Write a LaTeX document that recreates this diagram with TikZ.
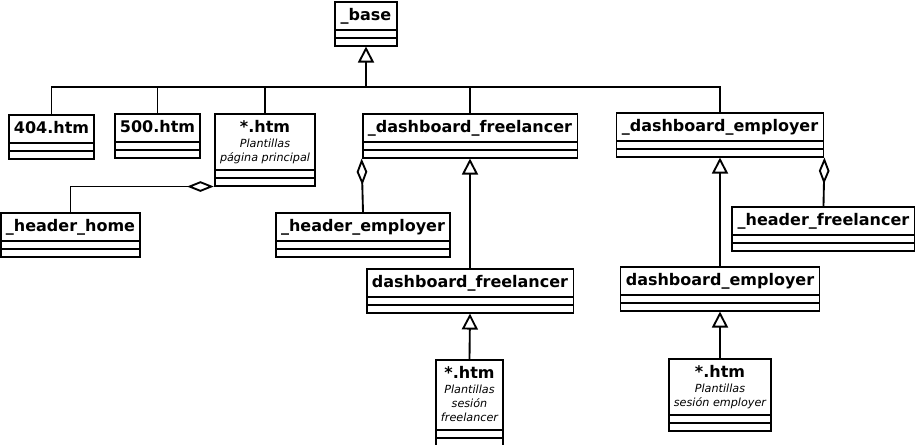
\documentclass[tikz,border=0pt]{standalone}
\usepackage{fontspec}
\setmainfont{DejaVu Sans}
\usetikzlibrary{shapes.multipart,arrows.meta}

\newcommand{\clsname}[1]{{\fontsize{12}{14}\selectfont\bfseries\upshape\rule[-3.5pt]{0pt}{14.75pt}#1}}
\newcommand{\clsnote}[2]{\begin{tabular}[t]{@{}c@{}}\clsname{#1}\\#2\end{tabular}}
\newcommand{\emptyrow}{\rule{0.5pt}{0pt}}

\tikzset{
  umlclass/.style={draw, line width=1.4pt, fill=white, anchor=north,
    rectangle split, rectangle split parts=3,
    inner xsep=4pt, inner ysep=2.3pt,
    font=\fontsize{8.4}{10.5}\selectfont\itshape},
  link/.style={line width=1.4pt},
  inherit/.style={link, -{Triangle[open,length=12pt,width=12pt]}},
  aggr/.style={link, -{Diamond[open,length=20pt,width=8pt]}},
}

\begin{document}
\begin{tikzpicture}[x=0.75pt,y=-0.75pt]
      \useasboundingbox (0,0) rectangle (915,445);
      % classes
      \node[umlclass] (base) at (366,1) {\clsname{\_base}\nodepart{two}\emptyrow\nodepart{three}\emptyrow};
      \node[umlclass] (p404) at (51.5,114) {\clsname{404.htm}\nodepart{two}\emptyrow\nodepart{three}\emptyrow};
      \node[umlclass] (p500) at (157.5,113) {\clsname{500.htm}\nodepart{two}\emptyrow\nodepart{three}\emptyrow};
      \node[umlclass] (pmain) at (265,113) {\clsnote{*.htm}{Plantillas\\página principal}\nodepart{two}\emptyrow\nodepart{three}\emptyrow};
      \node[umlclass] (dfree) at (470,113) {\clsname{\_dashboard\_freelancer}\nodepart{two}\emptyrow\nodepart{three}\emptyrow};
      \node[umlclass] (demp) at (720,112) {\clsname{\_dashboard\_employer}\nodepart{two}\emptyrow\nodepart{three}\emptyrow};
      \node[umlclass] (hhome) at (70.5,212) {\clsname{\_header\_home}\nodepart{two}\emptyrow\nodepart{three}\emptyrow};
      \node[umlclass] (hemp) at (363,212) {\clsname{\_header\_employer}\nodepart{two}\emptyrow\nodepart{three}\emptyrow};
      \node[umlclass] (hfree) at (823.5,206) {\clsname{\_header\_freelancer}\nodepart{two}\emptyrow\nodepart{three}\emptyrow};
      \node[umlclass] (dbfree) at (470,268) {\clsname{dashboard\_freelancer}\nodepart{two}\emptyrow\nodepart{three}\emptyrow};
      \node[umlclass] (dbemp) at (720,266) {\clsname{dashboard\_employer}\nodepart{two}\emptyrow\nodepart{three}\emptyrow};
      \node[umlclass] (sfree) at (469.5,359) {\clsnote{*.htm}{Plantillas\\sesión\\freelancer}\nodepart{two}\emptyrow\nodepart{three}\emptyrow};
      \node[umlclass] (semp) at (720,358) {\clsnote{*.htm}{Plantillas\\sesión employer}\nodepart{two}\emptyrow\nodepart{three}\emptyrow};
      % generalization to _base
      \coordinate (bus) at (366,87);
      \draw[inherit] (bus) -- (base.south);
      \foreach \n in {p404,p500,pmain,dfree,demp} {
        \draw[link] (\n.north) |- (bus);
      }
      \draw[inherit] (dbfree.north) -- (dfree.south);
      \draw[inherit] (dbemp.north) -- (demp.south);
      \draw[inherit] (sfree.north) -- (dbfree.south);
      \draw[inherit] (semp.north) -- (dbemp.south);
      % aggregation
      \draw[aggr] (hhome.north) |- (pmain.south west);
      \draw[aggr] (hemp.north) -- (dfree.south west);
      \draw[aggr] (hfree.north) -- (demp.south east);
    \end{tikzpicture}
\end{document}
